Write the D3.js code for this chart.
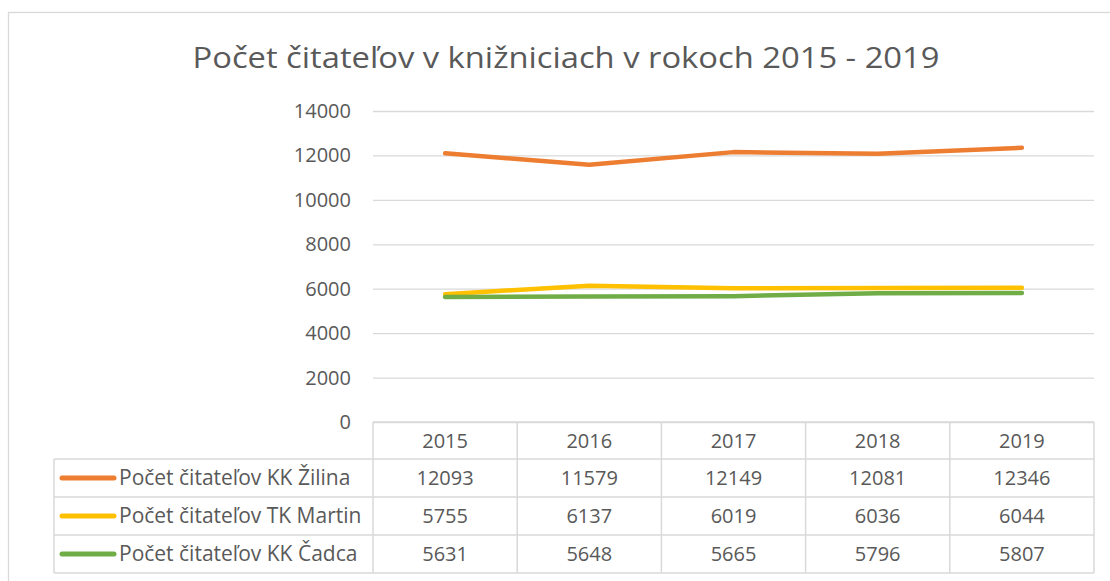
<!DOCTYPE html>
<html>
<head>
<meta charset="utf-8">
<script src="https://cdn.jsdelivr.net/npm/d3@7"></script>
<style>
  body { margin: 0; background: #fff; }
  text { font-family: "Open Sans", "Noto Sans", sans-serif; fill: #595959; }
  .grid line { stroke: #d9d9d9; stroke-width: 1.3; }
  .grid path { display: none; }
</style>
</head>
<body>
<div id="chart"></div>
<script>
// data
const years = ["2015", "2016", "2017", "2018", "2019"];
const seriesNames = ["Počet čitateľov KK Žilina", "Počet čitateľov TK Martin", "Počet čitateľov KK Čadca"];
const zilina = [12093, 11579, 12149, 12081, 12346];
const martin = [5755, 6137, 6019, 6036, 6044];
const cadca = [5631, 5648, 5665, 5796, 5807];
const colors = ["#ed7d31", "#ffc000", "#70ad47"];
const yTicks = [0, 2000, 4000, 6000, 8000, 10000, 12000, 14000];
const title = "Počet čitateľov v knižniciach v rokoch 2015 - 2019";

const series = [zilina, martin, cadca].map((vals, i) => ({ name: seriesNames[i], values: vals, color: colors[i] }));

const W = 1110, H = 581;
const plot = { left: 373, right: 1094, top: 111, bottom: 422 };
const table = { left: 54, rows: [422, 459, 497, 535, 573] };
const numSize = 20;

const svg = d3.select("#chart").append("svg")
  .attr("width", W)
  .attr("height", H);

// chart frame
svg.append("rect")
  .attr("x", 8.5).attr("y", 12.5)
  .attr("width", W + 20).attr("height", H + 20)
  .attr("fill", "none")
  .attr("stroke", "#d9d9d9")
  .attr("stroke-width", 1.3);

// title
svg.append("text")
  .attr("x", 566)
  .attr("y", 68)
  .attr("text-anchor", "middle")
  .attr("font-size", 30)
  .attr("textLength", 747)
  .attr("lengthAdjust", "spacingAndGlyphs")
  .text(title);

const x = d3.scaleBand().domain(years).range([plot.left, plot.right]);
const y = d3.scaleLinear().domain([0, 14000]).range([plot.bottom, plot.top]);

// horizontal gridlines
svg.append("g")
  .attr("class", "grid")
  .attr("transform", `translate(${plot.left},0)`)
  .call(d3.axisLeft(y).tickValues(yTicks).tickSize(-(plot.right - plot.left)).tickFormat(""));

// y labels
svg.append("g")
  .selectAll("text")
  .data(yTicks)
  .join("text")
  .attr("x", 351)
  .attr("y", d => y(d))
  .attr("dy", "0.35em")
  .attr("text-anchor", "end")
  .attr("font-size", numSize)
  .text(d => d);

// lines
const line = d3.line()
  .x((d, i) => x(years[i]) + x.bandwidth() / 2)
  .y(d => y(d));

svg.append("g")
  .selectAll("path")
  .data(series)
  .join("path")
  .attr("fill", "none")
  .attr("stroke", d => d.color)
  .attr("stroke-width", 4.5)
  .attr("stroke-linecap", "round")
  .attr("stroke-linejoin", "round")
  .attr("d", d => line(d.values));

// data table
const tg = svg.append("g");
const gridColor = "#d9d9d9";
const rows = table.rows;

// horizontal table lines
tg.append("line")
  .attr("x1", plot.left).attr("x2", plot.right)
  .attr("y1", rows[0]).attr("y2", rows[0])
  .attr("stroke", gridColor).attr("stroke-width", 1.5);
rows.slice(1).forEach(r => {
  tg.append("line")
    .attr("x1", table.left).attr("x2", plot.right)
    .attr("y1", r).attr("y2", r)
    .attr("stroke", gridColor).attr("stroke-width", 1.5);
});

// vertical table lines
const colEdges = years.map(yr => x(yr)).concat([plot.right]);
colEdges.forEach(cx => {
  tg.append("line")
    .attr("x1", cx).attr("x2", cx)
    .attr("y1", rows[0]).attr("y2", rows[4])
    .attr("stroke", gridColor).attr("stroke-width", 1.5);
});
tg.append("line")
  .attr("x1", table.left).attr("x2", table.left)
  .attr("y1", rows[1]).attr("y2", rows[4])
  .attr("stroke", gridColor).attr("stroke-width", 1.5);

// header years
tg.selectAll(".yr")
  .data(years)
  .join("text")
  .attr("class", "yr")
  .attr("x", d => x(d) + x.bandwidth() / 2)
  .attr("y", (rows[0] + rows[1]) / 2)
  .attr("dy", "0.35em")
  .attr("text-anchor", "middle")
  .attr("font-size", numSize)
  .text(d => d);

// series rows
series.forEach((s, i) => {
  const cy = (rows[i + 1] + rows[i + 2]) / 2;
  tg.append("line")
    .attr("x1", 62).attr("x2", 114)
    .attr("y1", cy).attr("y2", cy)
    .attr("stroke", s.color)
    .attr("stroke-width", 5)
    .attr("stroke-linecap", "round");
  tg.append("text")
    .attr("x", 119)
    .attr("y", cy)
    .attr("dy", "0.35em")
    .attr("font-size", 21)
    .text(s.name);
  tg.selectAll(".v" + i)
    .data(s.values)
    .join("text")
    .attr("x", (d, j) => x(years[j]) + x.bandwidth() / 2)
    .attr("y", cy)
    .attr("dy", "0.35em")
    .attr("text-anchor", "middle")
    .attr("font-size", numSize)
    .text(d => d);
});
</script>
</body>
</html>
